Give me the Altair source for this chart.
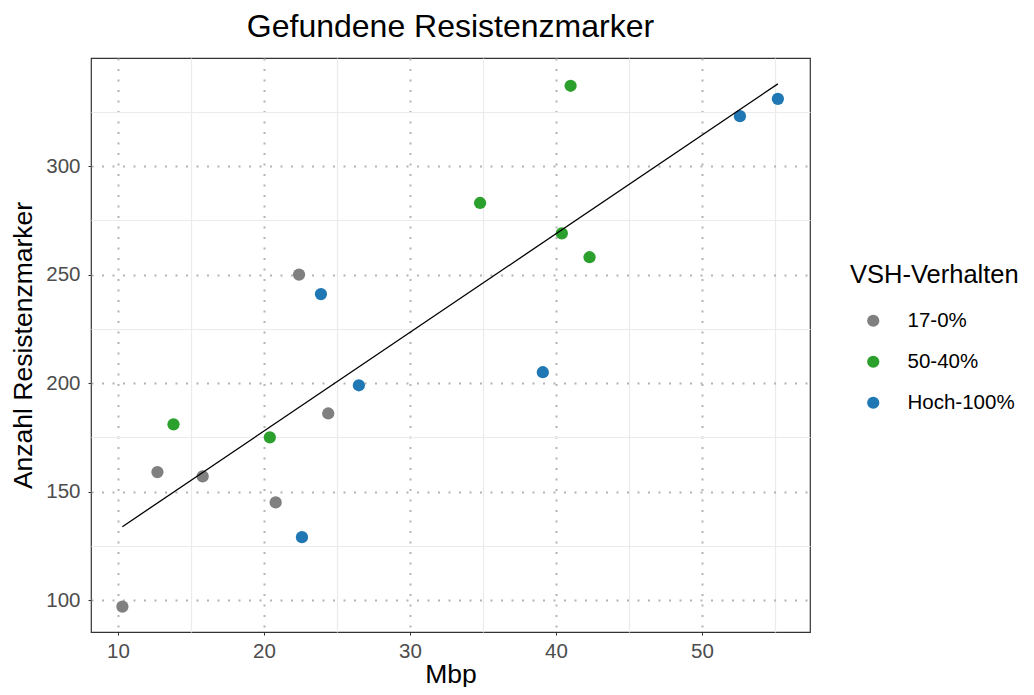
import altair as alt
import pandas as pd

groups = ["17-0%", "50-40%", "Hoch-100%"]
colors = ["#808080", "#2ca02c", "#1f77b4"]

mbp_gray = [10.3, 12.7, 15.8, 20.8, 22.4, 24.4]
res_gray = [97, 159, 157, 145, 250, 186]
mbp_green = [13.8, 20.4, 34.8, 40.4, 41.0, 42.3]
res_green = [181, 175, 283, 269, 337, 258]
mbp_blue = [22.6, 23.9, 26.5, 39.1, 52.6, 55.2]
res_blue = [129, 241, 199, 205, 323, 331]

x_major = [10, 20, 30, 40, 50]
x_minor = [15, 25, 35, 45, 55]
y_major = [100, 150, 200, 250, 300]
y_minor = [125, 175, 225, 275, 325]

rows = []
for g, xs, ys in zip(groups, [mbp_gray, mbp_green, mbp_blue], [res_gray, res_green, res_blue]):
    for x, y in zip(xs, ys):
        rows.append({"Mbp": x, "Res": y, "VSH": g})
df = pd.DataFrame(rows)

FONT = "Liberation Sans"
xscale = alt.Scale(domain=[8.15, 57.4], nice=False, zero=False)
yscale = alt.Scale(domain=[85.3, 349.8], nice=False, zero=False)

base = alt.Chart(df)

minor = base.mark_point(opacity=0).encode(
    x=alt.X("Mbp:Q", scale=xscale, axis=alt.Axis(
        orient="top", values=x_minor, grid=True, gridColor="#EBEBEB", gridWidth=1.2,
        labels=False, ticks=False, domain=False, title=None)),
    y=alt.Y("Res:Q", scale=yscale, axis=alt.Axis(
        orient="right", values=y_minor, grid=True, gridColor="#EBEBEB", gridWidth=1.2,
        labels=False, ticks=False, domain=False, title=None)),
)

points = base.mark_circle(size=150, opacity=1).encode(
    x=alt.X("Mbp:Q", scale=xscale, title="Mbp", axis=alt.Axis(
        orient="bottom", values=x_major, grid=True, gridColor="#B3B3B3", gridWidth=2,
        gridDash=[2, 8.5], domain=False, tickColor="#333333", tickSize=3,
        labelColor="#4D4D4D", labelFontSize=20.5, labelPadding=6,
        titleFontSize=26.5, titleFontWeight="normal", titleColor="#000000",
        titleBaseline="alphabetic", titleY=50)),
    y=alt.Y("Res:Q", scale=yscale, title="Anzahl Resistenzmarker", axis=alt.Axis(
        orient="left", values=y_major, grid=True, gridColor="#B3B3B3", gridWidth=2,
        gridDash=[2, 8.5], domain=False, tickColor="#333333", tickSize=3,
        labelColor="#4D4D4D", labelFontSize=20.5, labelPadding=8,
        titleFontSize=26.5, titleFontWeight="normal", titleColor="#000000",
        titleBaseline="alphabetic", titleX=-60)),
    color=alt.Color("VSH:N", scale=alt.Scale(domain=groups, range=colors),
                    legend=alt.Legend(title="VSH-Verhalten", orient="none",
                                      legendX=759, legendY=205,
                                      titleFontSize=25.5, titleFontWeight="normal",
                                      titleColor="#000000", titlePadding=22,
                                      labelFontSize=20.5, labelColor="#000000",
                                      symbolSize=150, symbolType="circle",
                                      symbolOffset=13, labelOffset=24,
                                      rowPadding=20)),
)

line = base.transform_regression("Mbp", "Res").mark_line(color="#000000", strokeWidth=1.3).encode(
    x=alt.X("Mbp:Q", scale=xscale, axis=None),
    y=alt.Y("Res:Q", scale=yscale, axis=None),
)

chart = alt.layer(minor, points, line).resolve_axis(
    x="independent", y="independent"
).properties(
    width=719, height=574,
    title=alt.TitleParams("Gefundene Resistenzmarker", fontSize=32, fontWeight="normal",
                          font=FONT, color="#000000", anchor="middle", offset=14),
    padding={"left": 83, "top": 50, "right": 216, "bottom": 55},
    autosize=alt.AutoSizeParams(type="none"),
).configure(font=FONT).configure_view(stroke="#333333", strokeWidth=1.2)

chart.save("out.html", embed_options={"renderer": "svg", "actions": False})
